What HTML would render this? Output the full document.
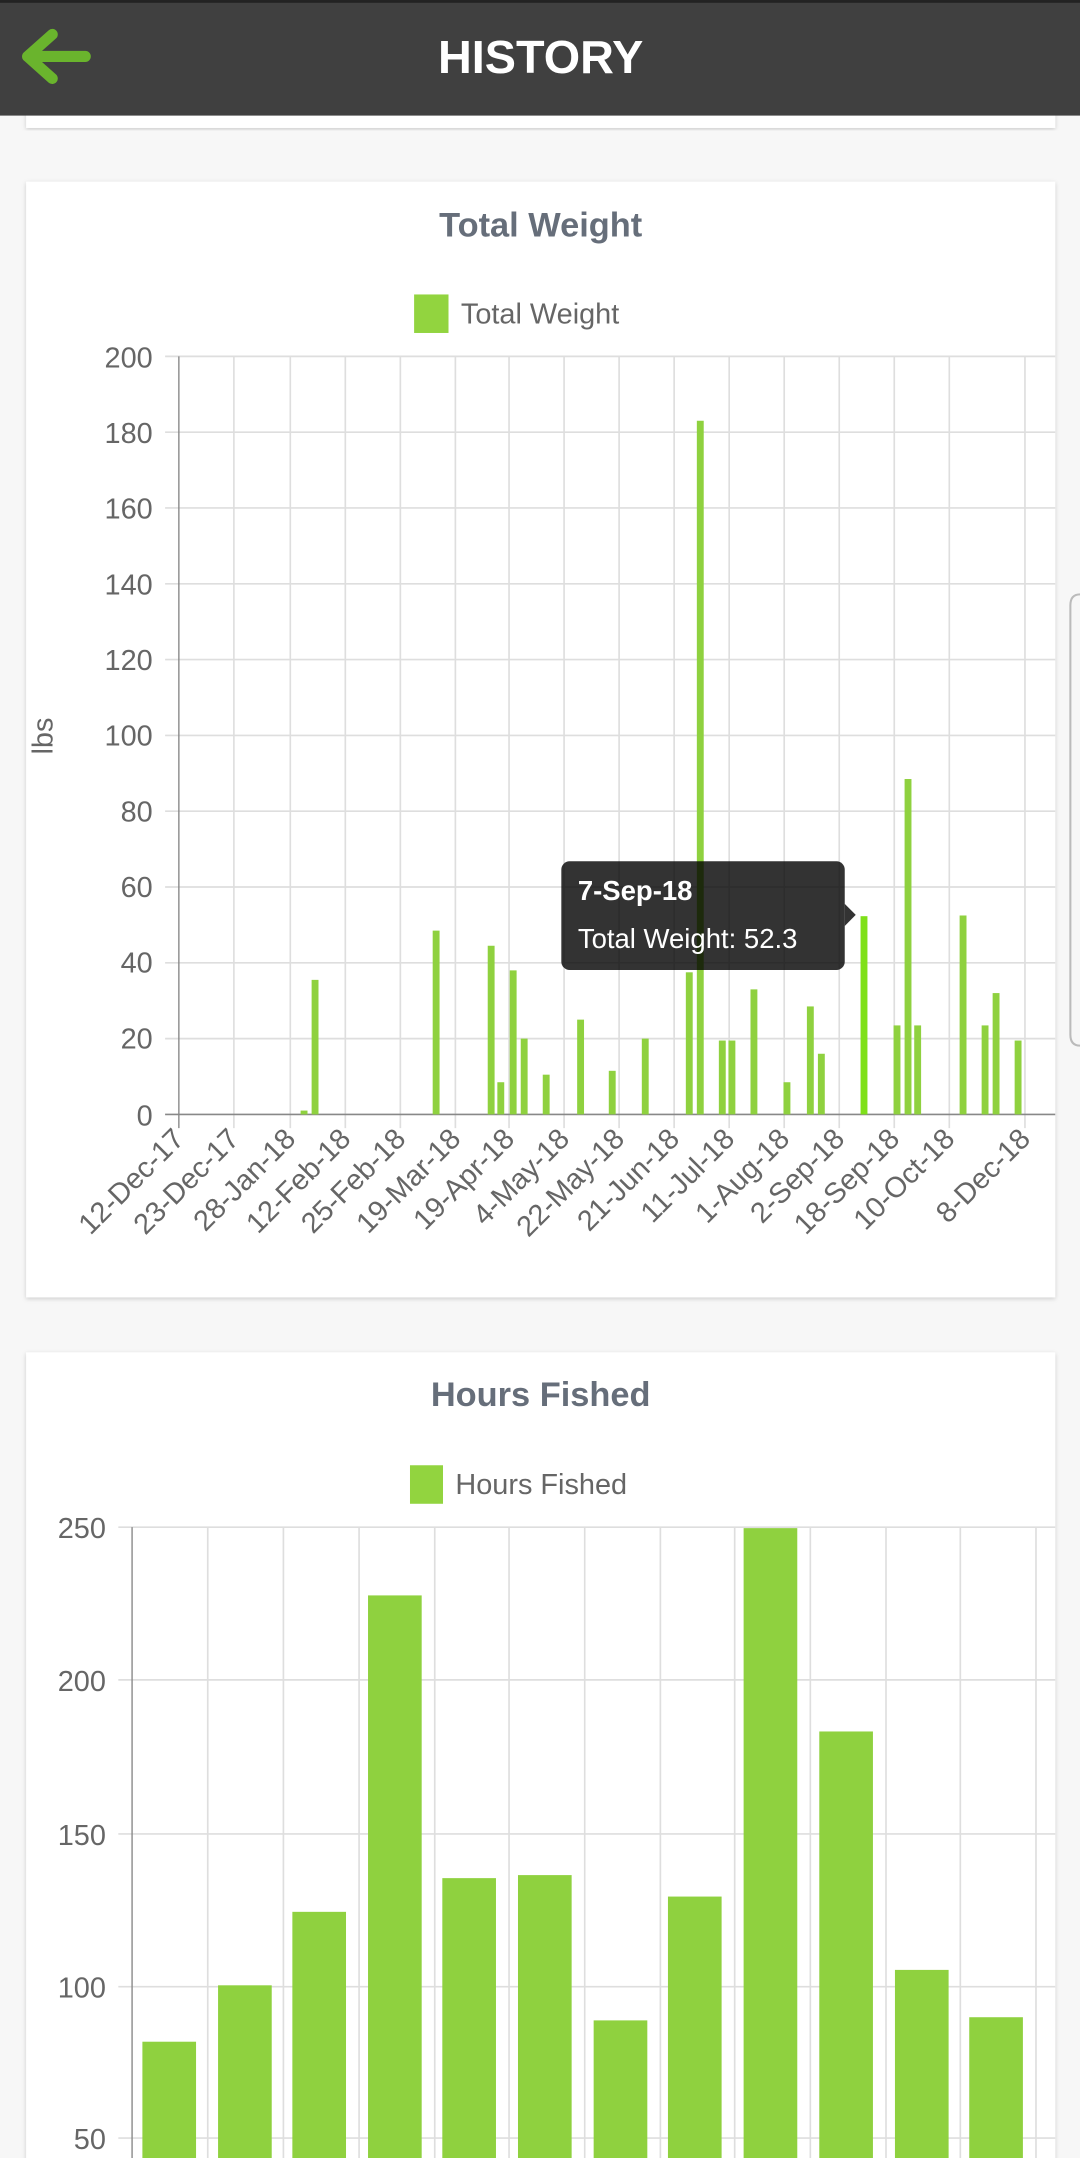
<!DOCTYPE html>
<html><head><meta charset="utf-8"><style>
html,body{margin:0;padding:0;background:#f7f7f7;}
svg{display:block;font-family:"Liberation Sans",sans-serif;}
</style></head><body>
<svg width="1080" height="2158" viewBox="0 0 785 1568.5" xmlns="http://www.w3.org/2000/svg">
<defs><filter id="sh" x="-5%" y="-5%" width="110%" height="110%"><feDropShadow dx="0" dy="1" stdDeviation="1.5" flood-color="#000" flood-opacity="0.18"/></filter></defs>
<rect width="785" height="1568.5" fill="#f7f7f7"/>
<rect x="19" y="60" width="748" height="33" fill="#fff" filter="url(#sh)"/>
<rect x="0" y="0" width="785" height="84" fill="#404040"/>
<rect x="0" y="0" width="785" height="2" fill="#222"/>
<path d="M62 41 H22 M38 25 L20 41 L38 57" stroke="#6ab42d" stroke-width="8" stroke-linecap="round" stroke-linejoin="round" fill="none"/>
<text x="393" y="53" text-anchor="middle" font-size="34" font-weight="bold" fill="#fff">HISTORY</text>
<path d="M785 432 Q778 432 778 440 V752 Q778 760 785 760" stroke="#bbb" stroke-width="1.5" fill="none"/>

<rect x="19" y="132" width="748" height="811" fill="#fff" filter="url(#sh)"/>
<text x="393" y="172" text-anchor="middle" font-size="25" font-weight="bold" fill="#666e7a">Total Weight</text>
<rect x="301" y="214" width="25" height="28" fill="#92d43f"/>
<text x="335" y="235" font-size="21" fill="#666">Total Weight</text>
<g stroke="#dedede" stroke-width="1.2">
<line x1="120" y1="259" x2="767" y2="259"/><line x1="120" y1="314.1" x2="767" y2="314.1"/><line x1="120" y1="369.2" x2="767" y2="369.2"/><line x1="120" y1="424.3" x2="767" y2="424.3"/><line x1="120" y1="479.4" x2="767" y2="479.4"/><line x1="120" y1="534.5" x2="767" y2="534.5"/><line x1="120" y1="589.6" x2="767" y2="589.6"/><line x1="120" y1="644.7" x2="767" y2="644.7"/><line x1="120" y1="699.8" x2="767" y2="699.8"/><line x1="120" y1="754.9" x2="767" y2="754.9"/>
<line x1="170" y1="259" x2="170" y2="820"/><line x1="211" y1="259" x2="211" y2="820"/><line x1="251" y1="259" x2="251" y2="820"/><line x1="291" y1="259" x2="291" y2="820"/><line x1="331" y1="259" x2="331" y2="820"/><line x1="370" y1="259" x2="370" y2="820"/><line x1="410" y1="259" x2="410" y2="820"/><line x1="450" y1="259" x2="450" y2="820"/><line x1="490" y1="259" x2="490" y2="820"/><line x1="530" y1="259" x2="530" y2="820"/><line x1="570" y1="259" x2="570" y2="820"/><line x1="610" y1="259" x2="610" y2="820"/><line x1="650" y1="259" x2="650" y2="820"/><line x1="690" y1="259" x2="690" y2="820"/><line x1="745" y1="259" x2="745" y2="820"/>
</g>
<line x1="130" y1="259" x2="130" y2="820" stroke="#888" stroke-width="1"/>
<line x1="120" y1="810" x2="767" y2="810" stroke="#888" stroke-width="1.2"/>
<g font-size="21" fill="#666" text-anchor="end">
<text x="111" y="267">200</text><text x="111" y="322">180</text><text x="111" y="377">160</text><text x="111" y="432">140</text><text x="111" y="487">120</text><text x="111" y="542">100</text><text x="111" y="597">80</text><text x="111" y="652">60</text><text x="111" y="707">40</text><text x="111" y="762">20</text><text x="111" y="818">0</text>
</g>
<text transform="translate(38,535) rotate(-90)" text-anchor="middle" font-size="21" fill="#666">lbs</text>
<g font-size="21" fill="#666" text-anchor="end">
<text transform="translate(135,829) rotate(-45)">12-Dec-17</text>
<text transform="translate(175,829) rotate(-45)">23-Dec-17</text>
<text transform="translate(216,829) rotate(-45)">28-Jan-18</text>
<text transform="translate(256,829) rotate(-45)">12-Feb-18</text>
<text transform="translate(296,829) rotate(-45)">25-Feb-18</text>
<text transform="translate(336,829) rotate(-45)">19-Mar-18</text>
<text transform="translate(375,829) rotate(-45)">19-Apr-18</text>
<text transform="translate(415,829) rotate(-45)">4-May-18</text>
<text transform="translate(455,829) rotate(-45)">22-May-18</text>
<text transform="translate(495,829) rotate(-45)">21-Jun-18</text>
<text transform="translate(535,829) rotate(-45)">11-Jul-18</text>
<text transform="translate(575,829) rotate(-45)">1-Aug-18</text>
<text transform="translate(615,829) rotate(-45)">2-Sep-18</text>
<text transform="translate(655,829) rotate(-45)">18-Sep-18</text>
<text transform="translate(695,829) rotate(-45)">10-Oct-18</text>
<text transform="translate(750,829) rotate(-45)">8-Dec-18</text>
</g>
<g fill="#8fd13f">
<rect x="218.5" y="807.2" width="5" height="2.8"/>
<rect x="226.5" y="712.2" width="5" height="97.8"/>
<rect x="314.5" y="676.4" width="5" height="133.6"/>
<rect x="354.5" y="687.4" width="5" height="122.6"/>
<rect x="361.5" y="786.6" width="5" height="23.4"/>
<rect x="370.5" y="705.3" width="5" height="104.7"/>
<rect x="378.5" y="754.9" width="5" height="55.1"/>
<rect x="394.5" y="781.1" width="5" height="28.9"/>
<rect x="419.5" y="741.1" width="5" height="68.9"/>
<rect x="442.5" y="778.3" width="5" height="31.7"/>
<rect x="466.5" y="754.9" width="5" height="55.1"/>
<rect x="498.5" y="706.7" width="5" height="103.3"/>
<rect x="506.5" y="305.8" width="5" height="504.2"/>
<rect x="522.5" y="756.3" width="5" height="53.7"/>
<rect x="529.5" y="756.3" width="5" height="53.7"/>
<rect x="545.5" y="719.1" width="5" height="90.9"/>
<rect x="569.5" y="786.6" width="5" height="23.4"/>
<rect x="586.5" y="731.5" width="5" height="78.5"/>
<rect x="594.5" y="765.9" width="5" height="44.1"/>
<rect x="625.5" y="665.9" width="5" height="144.1" fill="#7fe01a"/>
<rect x="649.5" y="745.3" width="5" height="64.7"/>
<rect x="657.5" y="566.2" width="5" height="243.8"/>
<rect x="664.5" y="745.3" width="5" height="64.7"/>
<rect x="697.5" y="665.4" width="5" height="144.6"/>
<rect x="713.5" y="745.3" width="5" height="64.7"/>
<rect x="721.5" y="721.8" width="5" height="88.2"/>
<rect x="737.5" y="756.3" width="5" height="53.7"/>
</g>
<g>
<rect x="408" y="626" width="206" height="79" rx="6" fill="#000" fill-opacity="0.8"/>
<path d="M614 657 L622 665 L614 673 Z" fill="#000" fill-opacity="0.8"/>
<text x="420" y="654" font-size="20" font-weight="bold" fill="#fff">7-Sep-18</text>
<text x="420" y="689" font-size="20" fill="#fff">Total Weight: 52.3</text>
</g>

<rect x="19" y="983" width="748" height="600" fill="#fff" filter="url(#sh)"/>
<text x="393" y="1022" text-anchor="middle" font-size="25" font-weight="bold" fill="#666e7a">Hours Fished</text>
<rect x="298" y="1065" width="24" height="28" fill="#92d43f"/>
<text x="331" y="1086" font-size="21" fill="#666">Hours Fished</text>
<g stroke="#dedede" stroke-width="1.2">
<line x1="86" y1="1110" x2="767" y2="1110"/><line x1="86" y1="1221" x2="767" y2="1221"/><line x1="86" y1="1333" x2="767" y2="1333"/><line x1="86" y1="1444" x2="767" y2="1444"/><line x1="86" y1="1554" x2="767" y2="1554"/>
<line x1="151" y1="1110" x2="151" y2="1570"/><line x1="206" y1="1110" x2="206" y2="1570"/><line x1="261" y1="1110" x2="261" y2="1570"/><line x1="316" y1="1110" x2="316" y2="1570"/><line x1="370" y1="1110" x2="370" y2="1570"/><line x1="425" y1="1110" x2="425" y2="1570"/><line x1="480" y1="1110" x2="480" y2="1570"/><line x1="534" y1="1110" x2="534" y2="1570"/><line x1="589" y1="1110" x2="589" y2="1570"/><line x1="644" y1="1110" x2="644" y2="1570"/><line x1="698" y1="1110" x2="698" y2="1570"/><line x1="753" y1="1110" x2="753" y2="1570"/>
</g>
<line x1="96" y1="1110" x2="96" y2="1570" stroke="#888" stroke-width="1"/>
<g font-size="21" fill="#666" text-anchor="end">
<text x="77" y="1118">250</text><text x="77" y="1229">200</text><text x="77" y="1341">150</text><text x="77" y="1452">100</text><text x="77" y="1562">50</text>
</g>
<g fill="#8fd13f">
<rect x="103.5" y="1484" width="39" height="90"/>
<rect x="158.5" y="1443" width="39" height="130"/>
<rect x="212.5" y="1389.6" width="39" height="180"/>
<rect x="267.5" y="1159.6" width="39" height="410"/>
<rect x="321.5" y="1365.1" width="39" height="210"/>
<rect x="376.5" y="1362.9" width="39" height="210"/>
<rect x="431.5" y="1468.5" width="39" height="110"/>
<rect x="485.5" y="1378.5" width="39" height="200"/>
<rect x="540.5" y="1110.7" width="39" height="460"/>
<rect x="595.5" y="1258.5" width="39" height="320"/>
<rect x="650.5" y="1431.8" width="39" height="140"/>
<rect x="704.5" y="1466.2" width="39" height="110"/>
</g>
</svg>
</body></html>
